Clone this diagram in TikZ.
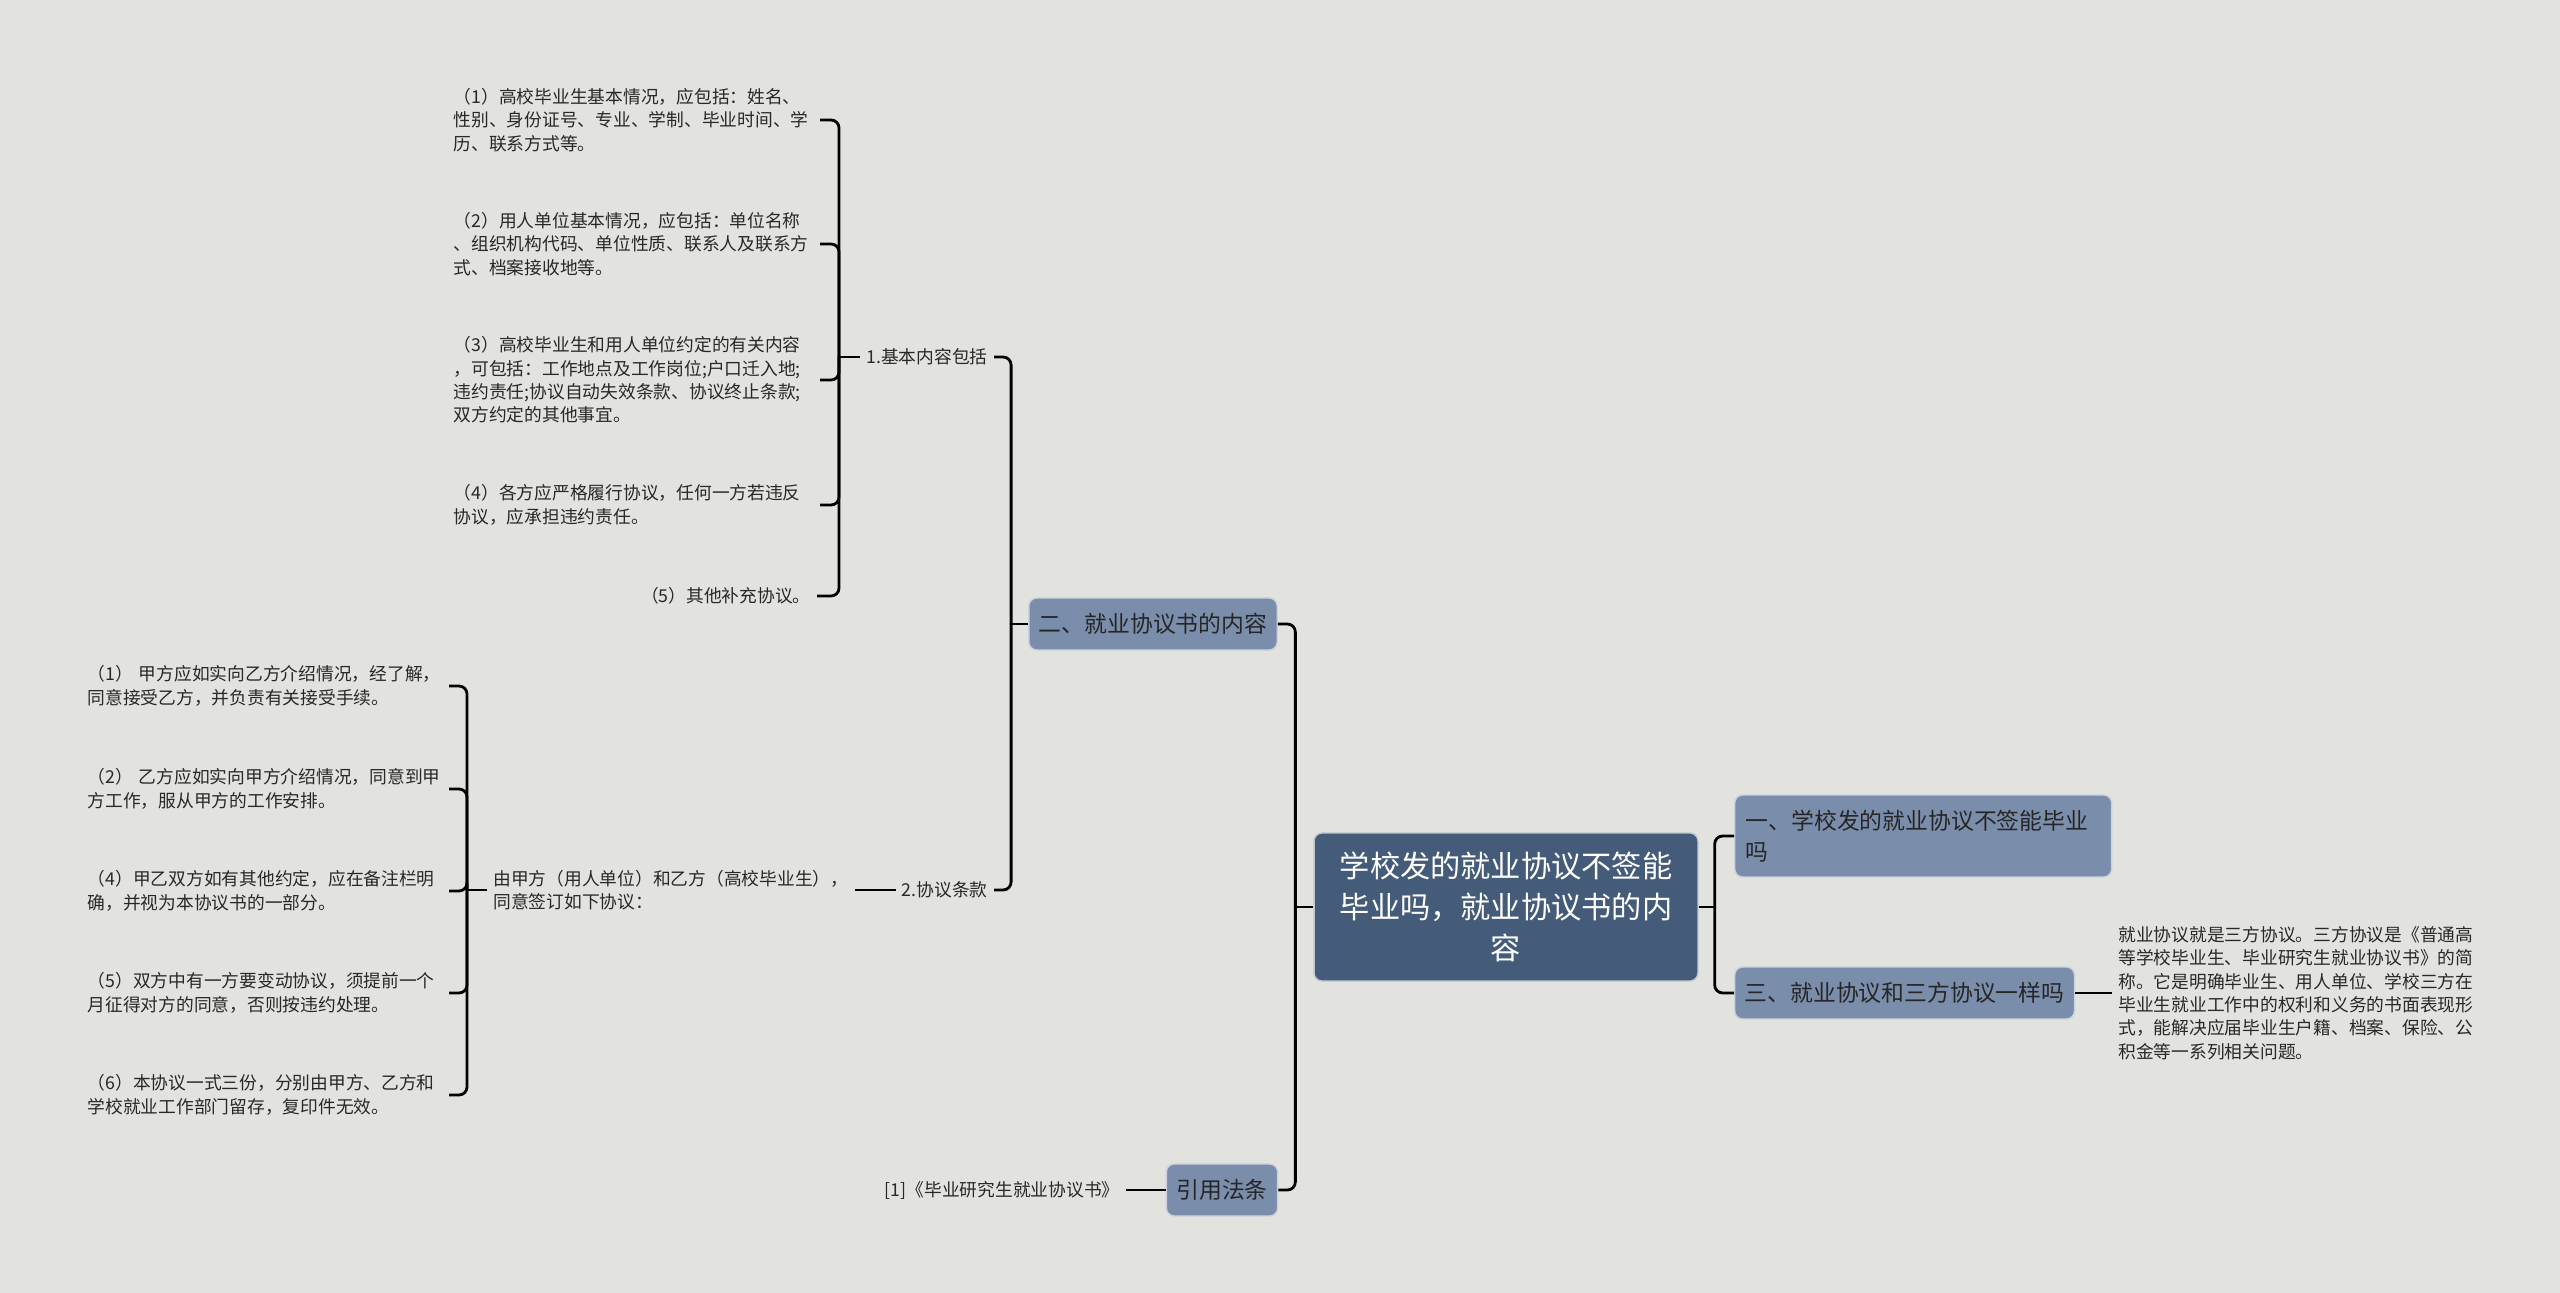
\documentclass[tikz,border=0pt]{standalone}
\usepackage{fontspec}
\setmainfont{Noto Sans CJK SC}
\usepackage{xcolor}
\usepackage{tikz}
\usetikzlibrary{positioning}

\definecolor{bgcol}{RGB}{226,226,222}
\definecolor{rootcol}{RGB}{68,91,122}
\definecolor{lvlcol}{RGB}{122,141,171}
\definecolor{txtcol}{RGB}{40,40,40}

\begin{document}
\begin{tikzpicture}[
    x=0.02cm, y=-0.02cm,
    rootbox/.style={
        fill=rootcol, draw=white!65!rootcol, line width=0.8pt,
        rounded corners=0.16cm, align=center, text=white,
        minimum width=7.68cm, minimum height=2.96cm,
        font=\fontsize{17.2}{23.2}\selectfont
    },
    lvl/.style={
        fill=lvlcol, draw=white!60!lvlcol, line width=0.8pt,
        rounded corners=0.16cm, inner xsep=0.2cm, minimum height=1.04cm,
        text=black!85, font=\fontsize{13}{17.6}\selectfont
    },
    leaf/.style={
        align=left, inner sep=0.12cm, text=txtcol,
        font=\fontsize{10.1}{13.3}\selectfont
    },
    itemA/.style={leaf, anchor=east, text width=7.2cm},
    itemB/.style={leaf, anchor=east, text width=7.1cm},
    conn/.style={draw=black, line width=1.6pt, rounded corners=0.16cm}
]

% --- Canvas ---
\fill[bgcol] (0,0) rectangle (2560,1293);
\useasboundingbox (0,0) rectangle (2560,1293);

% --- Root ---
\node[rootbox] (root) at (1506,907)
    {学校发的就业协议不签能\\毕业吗，就业协议书的内\\容};

% --- Right branch ---
\node[lvl, anchor=west, align=left, text width=7.1cm, inner xsep=0.22cm,
      minimum height=1.64cm] (n1) at (1734,836)
    {一、学校发的就业协议不签能毕业\\吗};
\node[lvl, anchor=west] (n3) at (1734,993) {三、就业协议和三方协议一样吗};
\node[leaf, anchor=west] (desc) at (2112,993)
    {就业协议就是三方协议。三方协议是《普通高\\
     等学校毕业生、毕业研究生就业协议书》的简\\
     称。它是明确毕业生、用人单位、学校三方在\\
     毕业生就业工作中的权利和义务的书面表现形\\
     式，能解决应届毕业生户籍、档案、保险、公\\
     积金等一系列相关问题。};

% --- Left branch ---
\node[lvl] (n2) at (1153,624) {二、就业协议书的内容};
\node[lvl] (ref) at (1222,1190) {引用法条};
\node[leaf, anchor=east] (cite) at (1126,1190) {[1]《毕业研究生就业协议书》};

\node[leaf, anchor=east] (k1) at (994,357) {1.基本内容包括};
\node[leaf, anchor=east] (k2) at (994,890) {2.协议条款};

% 1. basic contents
\node[itemA] (a1) at (820,120)
    {（1）高校毕业生基本情况，应包括：姓名、\\
     性别、身份证号、专业、学制、毕业时间、学\\
     历、联系方式等。};
\node[itemA] (a2) at (820,244)
    {（2）用人单位基本情况，应包括：单位名称\\
     、组织机构代码、单位性质、联系人及联系方\\
     式、档案接收地等。};
\node[itemA] (a3) at (820,380)
    {（3）高校毕业生和用人单位约定的有关内容\\
     ，可包括：工作地点及工作岗位;户口迁入地;\\
     违约责任;协议自动失效条款、协议终止条款;\\
     双方约定的其他事宜。};
\node[itemA] (a4) at (820,505)
    {（4）各方应严格履行协议，任何一方若违反\\
     协议，应承担违约责任。};
\node[leaf, anchor=east] (a5) at (817,596) {（5）其他补充协议。};

% 2. clauses
\node[leaf, anchor=west] (deal) at (487,890)
    {由甲方（用人单位）和乙方（高校毕业生），\\同意签订如下协议：};
\node[itemB] (b1) at (449,686)
    {（1） 甲方应如实向乙方介绍情况，经了解，\\
     同意接受乙方，并负责有关接受手续。};
\node[itemB] (b2) at (449,789)
    {（2） 乙方应如实向甲方介绍情况，同意到甲\\
     方工作，服从甲方的工作安排。};
\node[itemB] (b3) at (449,891)
    {（4）甲乙双方如有其他约定，应在备注栏明\\
     确，并视为本协议书的一部分。};
\node[itemB] (b4) at (449,993)
    {（5）双方中有一方要变动协议，须提前一个\\
     月征得对方的同意，否则按违约处理。};
\node[itemB] (b5) at (449,1095)
    {（6）本协议一式三份，分别由甲方、乙方和\\
     学校就业工作部门留存，复印件无效。};

% --- Connectors ---
\draw[conn] (root.west) -- ++(-18,0) coordinate (rootL);
\draw[conn] (rootL) |- (n2.east);
\draw[conn] (rootL) |- (ref.east);
\draw[conn] (root.east) -- ++(16,0) coordinate (rootR);
\draw[conn] (rootR) |- (n1.west);
\draw[conn] (rootR) |- (n3.west);
\draw[conn] (n3.east) -- (desc.west);
\draw[conn] (ref.west) -- (cite.east);

\draw[conn] (n2.west) -- ++(-17,0) coordinate (n2L);
\draw[conn] (n2L) |- (k1.east);
\draw[conn] (n2L) |- (k2.east);

\draw[conn] (k1.west) -- ++(-21,0) coordinate (k1L);
\foreach \i in {1,...,5}
    \draw[conn] (k1L) |- (a\i.east);

\draw[conn] (k2.west) -- (deal.east);
\draw[conn] (deal.west) -- ++(-20,0) coordinate (dealL);
\foreach \i in {1,...,5}
    \draw[conn] (dealL) |- (b\i.east);

\end{tikzpicture}
\end{document}
